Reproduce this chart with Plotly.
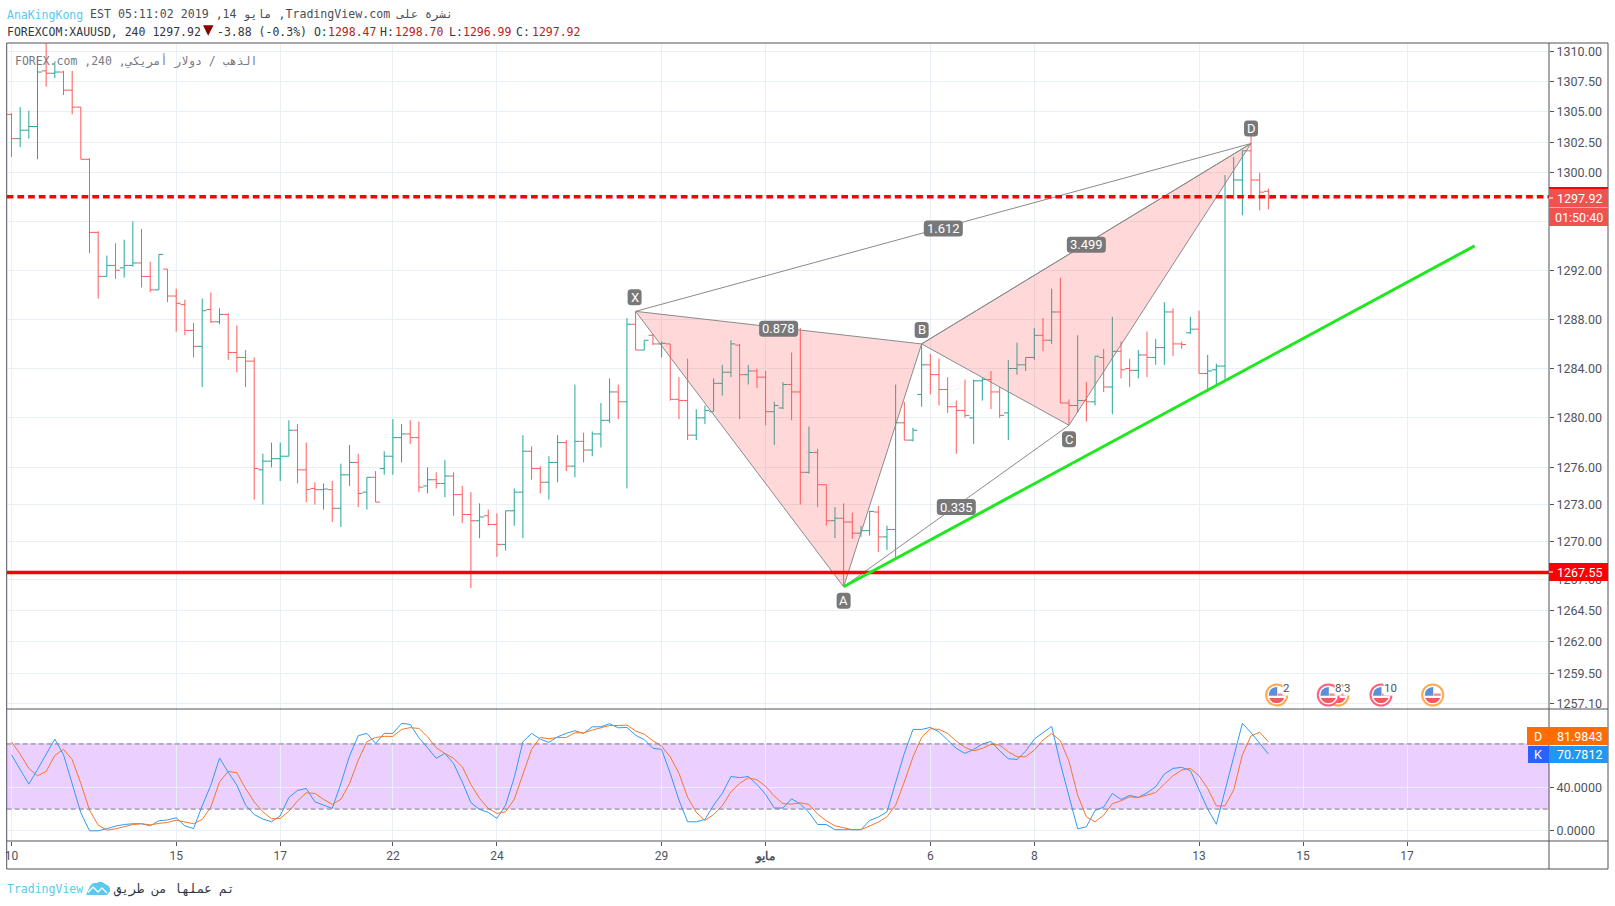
import math
import plotly.graph_objects as go

W, H = 1615, 906

# ---------- data ----------
opens = [
1304.8,1302.8,1303.5,1303.8,1308.4,1308.2,1308.3,1306.8,1305.4,1301.1,
1295.1,1291.5,1292.4,1292.2,1292.4,1292.6,1291.5,1290.4,1292.1,1289.9,
1289.2,1287.1,1285.8,1288.8,1287.8,1288.4,1285.3,1284.9,1284.6,1275.8,
1276.5,1276.7,1276.9,1279.0,1275.8,1274.3,1274.2,1274.2,1272.7,1275.4,
1276.4,1274.0,1275.2,1275.9,1276.9,1278.4,1278.7,1278.4,1274.5,1275.0,
1274.7,1275.3,1273.8,1272.2,1271.7,1272.1,1271.4,1269.8,1272.5,1274.0,
1277.3,1275.9,1274.8,1276.4,1278.0,1276.1,1278.1,1277.4,1278.7,1279.8,
1282.1,1281.3,1287.6,1285.5,1286.7,1286.0,1286.0,1281.5,1281.4,1278.6,
1280.0,1280.5,1282.8,1283.7,1285.9,1283.5,1283.8,1283.3,1280.5,1280.8,
1282.7,1282.1,1275.6,1277.2,1274.6,1271.7,1271.9,1271.6,1270.7,1270.9,
1272.4,1270.4,1271.0,1279.6,1278.2,1281.9,1284.3,1283.5,1282.3,1280.9,
1280.6,1280.0,1283.0,1283.1,1282.1,1280.4,1284.0,1284.3,1284.9,1286.7,
1286.3,1288.6,1281.2,1281.0,1281.4,1281.3,1284.9,1282.5,1285.4,1284.0,
1283.85,1285.1,1284.9,1285.7,1288.6,1286.0,1286.9,1287.2,1283.6,1283.9,
1284.2,1298.0,1299.4,1301.8,1299.4,1298.47]
closes = [
1302.8,1303.5,1303.8,1308.3,1308.2,1308.3,1306.8,1305.4,1301.1,1295.1,
1291.5,1292.4,1292.0,1292.4,1292.6,1291.5,1290.4,1293.3,1289.9,1289.3,
1287.1,1285.8,1288.7,1287.8,1288.4,1285.3,1284.9,1284.6,1275.9,1276.5,
1276.7,1276.9,1279.0,1275.8,1274.2,1274.2,1274.25,1272.7,1275.4,1276.4,
1273.9,1275.2,1273.2,1276.9,1278.4,1278.7,1278.4,1274.4,1275.0,1274.7,
1275.3,1273.8,1272.2,1271.7,1272.0,1271.4,1269.8,1272.5,1274.0,1277.3,
1275.9,1274.8,1276.4,1278.0,1276.1,1278.1,1277.4,1278.7,1279.8,1282.1,
1281.3,1287.6,1285.5,1286.3,1286.0,1286.05,1281.5,1281.4,1278.6,1280.0,
1280.6,1282.8,1283.7,1286.0,1283.5,1283.8,1283.3,1280.5,1281.0,1282.7,
1282.1,1275.6,1277.2,1274.6,1271.7,1271.9,1271.6,1270.7,1270.9,1272.45,
1270.4,1271.0,1279.6,1278.2,1279.0,1284.3,1283.5,1282.3,1280.9,1280.6,
1280.2,1283.0,1283.1,1282.1,1280.2,1284.0,1284.3,1284.9,1286.7,1286.3,
1288.6,1281.2,1281.0,1281.4,1281.3,1285.0,1282.5,1285.4,1283.9,1283.85,
1285.1,1284.9,1285.7,1288.6,1286.0,1285.95,1287.2,1283.6,1283.8,1284.2,
1298.0,1299.4,1301.8,1299.4,1298.4,1297.92]
highs = [
1304.9,1305.4,1305.1,1309.6,1311.0,1309.2,1308.4,1308.4,1305.4,1301.2,
1295.2,1293.2,1294.2,1294.5,1296.0,1295.4,1292.7,1293.3,1292.1,1290.5,
1289.6,1287.7,1289.7,1290.2,1288.9,1288.5,1287.5,1285.5,1284.9,1277.1,
1278.0,1278.0,1279.8,1279.5,1278.0,1274.8,1274.7,1274.9,1276.3,1277.8,
1277.1,1275.2,1275.7,1277.3,1279.9,1279.5,1279.8,1279.7,1276.0,1275.6,
1276.6,1275.6,1274.5,1274.0,1273.1,1272.6,1272.3,1272.5,1274.3,1278.6,
1277.7,1276.1,1276.9,1278.6,1278.2,1282.7,1278.8,1278.9,1281.2,1283.2,
1282.7,1288.1,1288.6,1286.3,1286.8,1286.2,1286.0,1283.3,1284.8,1280.7,
1281.0,1283.2,1284.3,1286.3,1286.0,1284.3,1284.0,1283.8,1281.3,1282.9,
1285.3,1287.3,1279.3,1277.5,1274.6,1272.8,1273.1,1272.35,1271.3,1272.5,
1272.9,1271.3,1282.7,1281.3,1279.2,1286.0,1285.2,1284.8,1283.3,1281.4,
1283.1,1283.1,1283.3,1283.8,1282.5,1284.7,1286.1,1284.9,1287.3,1288.1,
1290.5,1291.4,1281.5,1286.7,1282.9,1285.0,1285.6,1288.2,1286.2,1284.8,
1285.5,1287.0,1286.4,1289.4,1288.9,1286.2,1288.2,1288.7,1285.1,1284.4,
1299.8,1301.3,1301.8,1303.3,1300.0,1298.70]
lows = [
1301.3,1302.1,1302.8,1301.1,1307.1,1307.8,1306.4,1304.8,1301.1,1293.4,
1289.7,1291.5,1291.3,1291.4,1292.3,1290.6,1290.2,1290.4,1289.4,1287.0,
1286.7,1284.9,1282.5,1287.7,1287.6,1284.7,1283.7,1282.5,1273.4,1273.0,
1276.0,1274.9,1276.9,1274.7,1273.2,1273.0,1272.6,1271.6,1271.2,1274.5,
1272.8,1272.6,1273.2,1275.4,1275.4,1276.4,1277.9,1274.0,1273.9,1274.3,
1273.6,1272.1,1271.5,1266.3,1270.3,1271.3,1268.8,1269.3,1271.3,1270.3,
1275.0,1273.9,1273.4,1274.8,1275.7,1275.2,1276.4,1276.9,1277.6,1279.6,
1279.9,1274.3,1285.5,1285.5,1285.9,1284.9,1281.4,1279.9,1278.2,1278.2,
1279.5,1280.5,1281.8,1283.3,1279.9,1282.7,1282.4,1279.4,1277.8,1280.7,
1279.8,1273.0,1275.5,1272.8,1271.3,1270.3,1266.4,1270.25,1270.4,1270.5,
1269.2,1269.35,1268.6,1278.2,1278.1,1280.9,1281.9,1281.0,1280.4,1277.1,
1280.0,1277.9,1281.4,1280.7,1280.0,1278.2,1283.5,1283.8,1284.7,1285.4,
1286.0,1281.2,1279.4,1280.4,1279.7,1281.0,1282.1,1280.3,1283.2,1282.5,
1283.2,1283.3,1284.3,1284.3,1285.0,1285.6,1286.8,1283.6,1282.1,1282.7,
1283.1,1297.8,1296.5,1298.1,1296.9,1296.99]
bars = list(range(len(opens)))

stoch_k = [
70,57,43,56.5,70,84.5,70,43,16.6,0,
0,2,4.3,5.8,6.5,6.5,4.6,9.2,10,12,
4.6,2,23,42,67,54,42,23.7,15,10.8,
8.3,13.8,30.7,37.2,39,26.7,23.7,20.6,43.6,69,
87.6,89.7,80.5,89.7,89.7,99,98,85.7,76.5,66.7,
71.3,62,45,26,19.7,17,11.4,23.7,49,82,
89.7,84.5,81.4,86.6,89.7,92.2,89.7,95.8,95.8,98.6,
94.9,95.2,88,84,76,75,52.8,28.3,8.3,8.3,
10.4,23.7,34.4,50,49,50,42.7,33.5,21,21,
29.5,24.6,17,5.8,5.8,1,1,1,1,9.5,
12.6,17.5,43.6,71.3,93.4,93.4,95.2,91.2,83.6,75.9,
71.3,75,79.9,82.3,73.7,66.4,65.7,73.4,84.5,90.3,
96.2,62,32.9,1.8,3.7,18.7,21.8,34.4,28.9,32.6,
30.7,35,40.6,52.2,57.5,58.4,55.6,37.5,20,6,
37.5,68,99,90.4,80.6,70.78]
stoch_d = [
82,70.7,57.5,50.7,54.7,69.4,75,65.7,43.6,19,
5.2,0.6,1.8,3.7,5.8,6.5,5.5,6.8,7.7,9.8,
8.3,6.5,10.4,22,45,54.7,53.5,39,26.7,17.5,
11,11.4,18,27.6,35,34.4,29,24.3,29,43.6,
65,82,86,87,87,93.4,95,94.3,86.6,76.5,
71.3,66.7,59,42.7,29.8,20.6,16,17.5,29,52.8,
75,86,84.8,86,86,90.3,90.3,92.8,95,97,
97,97.4,92,89,83,78,68,53,31,17,
9.5,15,23,36,43.6,48.8,47,41,32,25,
24.6,25.8,24.3,15.4,9.2,4.6,2.8,1,1,4.3,
8,12.9,23.7,45,68,86,94,93.4,89.7,82.6,
76.8,73.7,75.9,79.6,79,72.8,68.2,68.2,74.3,83.6,
89.7,83,64,32.9,12.9,8.3,14.4,25,27.6,31.3,
30.7,32.9,35.3,43,50.7,56,57.5,50.7,39,23,
23,37.5,70,87.4,90.8,81.98]

pattern_names = ["X", "A", "B", "C", "D"]
pattern_x = [72, 96, 105, 122, 143]
pattern_y = [1288.65, 1266.4, 1286.0, 1279.4, 1302.4]
ratio_labels = ["0.878", "0.335", "3.499", "1.612"]

support_level = 1267.55
last_price = 1297.92
resistance_line = 1298.03
trend_x = [96, 168.8]
trend_y = [1266.4, 1294.0]
band_low, band_high = 20, 80

price_ticks = [1310, 1307.5, 1305, 1302.5, 1300, 1296, 1292, 1288, 1284, 1280,
               1276, 1273, 1270, 1267, 1264.5, 1262, 1259.5, 1257.1]
price_hidden = [1296]
stoch_ticks = [0, 40, 80]
stoch_ticklabels = ["0.0000", "40.0000", ""]
date_ticks = [0, 19, 31, 44, 56, 75, 87, 106, 118, 137, 149, 161]
date_labels = ["10", "15", "17", "22", "24", "29", "<b>مايو</b>", "6", "8", "13", "15", "17"]

# ---------- geometry (pixels) ----------
X0, X1 = 6.7, 1549
TOP, SPLIT, SUB_BOTTOM, BOTTOM, RIGHT = 43, 709, 841, 869, 1608
BAR0, PITCH = 11.5, 8.668
LOG_REF, LOG_REF_Y, LOG_K = math.log10(1310), 51.5, 36413

def px(i):
    return BAR0 + PITCH * i

def py(p):
    return LOG_REF_Y + (LOG_REF - math.log10(p)) * LOG_K

x_range = [(X0 - BAR0) / PITCH, (X1 - BAR0) / PITCH]
y_range = [LOG_REF - (SPLIT - LOG_REF_Y) / LOG_K, LOG_REF + (LOG_REF_Y - TOP) / LOG_K]

MONO = "DejaVu Sans Mono"
AXF = "Roboto"
GRID = "#e8eff5"
FRAME = "#50535e"
AXTXT = "#50535e"
GREEN = "#26a69a"
RED = "#ff5a5a"

fig = go.Figure()

fig.add_trace(go.Ohlc(
    x=bars, open=opens, high=highs, low=lows, close=closes, xaxis="x", yaxis="y",
    tickwidth=0.5,
    increasing=dict(line=dict(color=GREEN, width=1)),
    decreasing=dict(line=dict(color=RED, width=1)),
    hoverinfo="skip", showlegend=False))

# harmonic pattern
pt = dict(zip(pattern_names, zip(pattern_x, pattern_y)))
FILL = "rgba(255,82,82,0.22)"
for tri in ("XAB", "BCD"):
    fig.add_trace(go.Scatter(x=[pt[c][0] for c in tri] + [pt[tri[0]][0]],
                             y=[pt[c][1] for c in tri] + [pt[tri[0]][1]],
                             mode="lines", fill="toself", fillcolor=FILL,
                             line=dict(color="#8a8a8a", width=1),
                             xaxis="x", yaxis="y", hoverinfo="skip", showlegend=False))
for a, b in ("XD", "AC", "BD"):
    fig.add_trace(go.Scatter(x=[pt[a][0], pt[b][0]], y=[pt[a][1], pt[b][1]], mode="lines",
                             line=dict(color="#8a8a8a", width=1),
                             xaxis="x", yaxis="y", hoverinfo="skip", showlegend=False))

# horizontal levels and trend line
fig.add_trace(go.Scatter(x=x_range, y=[resistance_line, resistance_line], mode="lines",
                         line=dict(color="#ff0000", width=3.5, dash="6.7px,4px"),
                         xaxis="x", yaxis="y", hoverinfo="skip", showlegend=False))
fig.add_trace(go.Scatter(x=x_range, y=[support_level, support_level], mode="lines",
                         line=dict(color="#ff0000", width=3.5),
                         xaxis="x", yaxis="y", hoverinfo="skip", showlegend=False))
fig.add_trace(go.Scatter(x=trend_x, y=trend_y, mode="lines",
                         line=dict(color="#1ee81e", width=3),
                         xaxis="x", yaxis="y", hoverinfo="skip", showlegend=False))

# stochastic
fig.add_trace(go.Scatter(x=bars, y=stoch_k, mode="lines", line=dict(color="#2f9bf5", width=1),
                         xaxis="x2", yaxis="y2", hoverinfo="skip", showlegend=False))
fig.add_trace(go.Scatter(x=bars, y=stoch_d, mode="lines", line=dict(color="#f7752a", width=1),
                         xaxis="x2", yaxis="y2", hoverinfo="skip", showlegend=False))

# ---------- helpers ----------
def fx(p):
    return p / W

def fy(p):
    return 1 - p / H

shapes, annotations = [], []

def line(x0, y0, x1, y1, color=FRAME, width=1):
    shapes.append(dict(type="line", xref="paper", yref="paper", x0=fx(x0), y0=fy(y0),
                       x1=fx(x1), y1=fy(y1), line=dict(color=color, width=width), layer="above"))

def box(x0, y0, x1, y1, color):
    shapes.append(dict(type="rect", xref="paper", yref="paper", x0=fx(x0), y0=fy(y0),
                       x1=fx(x1), y1=fy(y1), line=dict(width=0), fillcolor=color, layer="above"))

def path(cmds, color, linecolor=None, lw=0):
    parts = []
    for c in cmds:
        if isinstance(c, str):
            parts.append(c)
        else:
            parts.append(f"{fx(c[0])},{fy(c[1])}")
    shapes.append(dict(type="path", xref="paper", yref="paper", path=" ".join(parts),
                       fillcolor=color, line=dict(color=linecolor or color, width=lw), layer="above"))

def rrect(cx, cy, w, h, r, color):
    x0, x1, y0, y1 = cx - w/2, cx + w/2, cy - h/2, cy + h/2
    path(["M", (x0 + r, y0), "L", (x1 - r, y0), "Q", (x1, y0), (x1, y0 + r),
          "L", (x1, y1 - r), "Q", (x1, y1), (x1 - r, y1),
          "L", (x0 + r, y1), "Q", (x0, y1), (x0, y1 - r),
          "L", (x0, y0 + r), "Q", (x0, y0), (x0 + r, y0), "Z"], color)

def text(x, y, s, size=11.5, color="#3c3f4a", font=MONO, anchor="left", bg=None):
    if anchor == "left":
        x -= 1.2
    annotations.append(dict(xref="paper", yref="paper", x=fx(x), y=fy(y), text=s, showarrow=False,
                            xanchor=anchor, yanchor="middle", align=anchor, borderpad=0,
                            bgcolor=bg, font=dict(family=font, size=size, color=color)))

# stochastic band
shapes.append(dict(type="rect", xref="x2 domain", yref="y2", x0=0, x1=1, y0=band_low, y1=band_high,
                   fillcolor="rgba(153,21,255,0.2)", line=dict(width=0), layer="below"))
for lvl in (band_low, band_high):
    shapes.append(dict(type="line", xref="x2 domain", yref="y2", x0=0, x1=1, y0=lvl, y1=lvl,
                       line=dict(color="#787b86", width=1, dash="5px,3px"), layer="above"))

# frame
line(X0, TOP, RIGHT, TOP)
line(X0, BOTTOM, RIGHT, BOTTOM)
line(X0, TOP, X0, BOTTOM)
line(RIGHT, TOP, RIGHT, BOTTOM)
line(X1, TOP, X1, BOTTOM)
line(X0, SPLIT, RIGHT, SPLIT)
line(X0, SUB_BOTTOM, RIGHT, SUB_BOTTOM)

# pattern labels
def tag(cx, cy, s, w):
    rrect(cx, cy, w, 16, 3.5, "#787878")
    text(cx, cy, s, size=13, color="#ffffff", font=AXF, anchor="center")

offs = {"X": -14, "A": 14, "B": -14, "C": 14, "D": -15}
for n in pattern_names:
    tag(px(pt[n][0]) - (1 if n == "X" else 0), py(pt[n][1]) + offs[n], n, 14)
for (a, b), s in zip(("XB", "AC", "BD", "XD"), ratio_labels):
    tag((px(pt[a][0]) + px(pt[b][0])) / 2, (py(pt[a][1]) + py(pt[b][1])) / 2 + 1, s, 39)

# axis value labels
box(X1, 187, RIGHT, 207, "#ef5350")
box(X1, 187, RIGHT, 189, "#ff0000")
box(X1, 207.5, RIGHT, 226, "#ef5350")
text(1579, 198, f"{last_price:.2f}", size=12.5, color="#ffffff", font=AXF, anchor="center")
text(1579, 217, "01:50:40", size=12.5, color="#ffffff", font=AXF, anchor="center")
line(X1, 198, X1 + 4, 198, "#ffffff")
box(X1, 563, RIGHT, 581, "#ff0000")
line(X1, 572, X1 + 4, 572, "#ffffff")
text(1579, 572, f"{support_level:.2f}", size=12.5, color="#ffffff", font=AXF, anchor="center")

box(1527, 727, X1, 745, "#ff6d00")
box(X1, 727, RIGHT, 745, "#ff6d00")
text(1538, 736, "D", size=12.5, color="#ffffff", font=AXF, anchor="center")
text(1579, 736, f"{81.9843:.4f}", size=12.5, color="#ffffff", font=AXF, anchor="center")
box(1528, 746, X1, 763, "#2962ff")
box(X1, 746, RIGHT, 763, "#2196f3")
text(1538, 754.5, "K", size=12.5, color="#ffffff", font=AXF, anchor="center")
text(1579, 754.5, f"{70.7812:.4f}", size=12.5, color="#ffffff", font=AXF, anchor="center")

# economic-calendar icons
def event(cx, cy, ring):
    r = 10.5
    shapes.append(dict(type="circle", xref="paper", yref="paper", x0=fx(cx - r), x1=fx(cx + r),
                       y0=fy(cy + r), y1=fy(cy - r), fillcolor="#ffffff",
                       line=dict(color=ring, width=2), layer="above"))
    path(["M", (cx - 7.5, cy + 3), "L", (cx + 7.5, cy + 3), "Q", (cx + 5, cy + 8.5), (cx, cy + 8),
          "Q", (cx - 5, cy + 8.5), (cx - 7.5, cy + 3), "Z"], "#ef5a5f")
    path(["M", (cx + 1, cy - 1.5), "L", (cx + 8, cy - 1.5), "L", (cx + 8, cy + 0.8), "L", (cx + 1, cy + 0.8), "Z"], "#ef8a8e")
    path(["M", (cx - 8, cy + 0.8), "L", (cx + 0.5, cy + 0.8), "L", (cx + 0.5, cy - 8), "Q", (cx - 8, cy - 7.5), (cx - 8, cy + 0.8), "Z"], "#5b8fd9")

ORANGE = "#ffa94d"
PINK = "#ff5f7e"
event(1276.7, 695, ORANGE)
event(1338, 695, ORANGE)
event(1328.3, 695, PINK)
event(1381, 695, PINK)
event(1432.7, 695, ORANGE)
NUM = dict(size=11.5, color="#50535e", font=AXF, anchor="center", bg="#ffffff")
text(1286, 687.7, "2", **NUM)
text(1338, 687.7, "8", **NUM)
text(1346.5, 687.7, "3", **NUM)
text(1390, 687.7, "10", **NUM)

# headers
text(6.7, 14.5, "AnaKingKong", size=11.5, color="#5ac8f0")
text(90, 14.5, "EST 05:11:02 2019 ,14 مايو ,TradingView.com نشرة على", size=11.6, color="#4a4d57")
text(6.7, 31.5, "FOREXCOM:XAUUSD, 240 1297.92", size=11.5, color="#33363f")
path(["M", (203, 25.2), "L", (213.5, 25.2), "L", (208.2, 35.8), "Z"], "#8b0000")
text(217, 31.5, "-3.88 (-0.3%) O:", size=11.5, color="#33363f")
text(328, 31.5, "1298.47", size=11.5, color="#b71c1c")
text(380, 31.5, "H:", size=11.5, color="#33363f")
text(395, 31.5, "1298.70", size=11.5, color="#b71c1c")
text(449, 31.5, "L:", size=11.5, color="#33363f")
text(463, 31.5, "1296.99", size=11.5, color="#b71c1c")
text(516, 31.5, "C:", size=11.5, color="#33363f")
text(532, 31.5, "1297.92", size=11.5, color="#b71c1c")
text(15.3, 61.5, "FOREX.com ,240 ,الذهب / دولار أمريكي", size=11.5, color="#777a84")

# footer
text(7, 889, "TradingView", size=11.5, color="#5ac8f0")
path(["M", (86, 895), "L", (90, 886), "Q", (93, 882), (97, 883), "Q", (101, 880), (105, 884),
      "Q", (111, 886), (110, 891), "L", (107, 895), "Z"], "#5ac8f0")
path(["M", (88, 892.5), "L", (93, 887), "L", (98, 892), "L", (102, 888), "L", (107, 893)], "rgba(0,0,0,0)", "#ffffff", 1.3)
text(113, 889, "تم عملها من طريق", size=12.5, color="#33363f", font=MONO)

# ---------- axes ----------
base_x = dict(range=x_range, tickmode="array", tickvals=date_ticks, showgrid=True, gridcolor=GRID,
              gridwidth=1, zeroline=False, showline=False, fixedrange=True,
              domain=[fx(X0), fx(X1)], automargin=False)
fig.update_layout(
    width=W, height=H, autosize=False,
    margin=dict(l=0, r=0, t=0, b=0, pad=0, autoexpand=False),
    paper_bgcolor="#ffffff", plot_bgcolor="#ffffff", showlegend=False,
    xaxis=dict(base_x, anchor="y", showticklabels=False, ticks="", rangeslider=dict(visible=False)),
    xaxis2=dict(base_x, anchor="y2", ticktext=date_labels, ticks="outside", ticklen=4, tickcolor=FRAME,
                tickfont=dict(family=AXF, size=12, color=AXTXT)),
    yaxis=dict(type="log", range=y_range, domain=[fy(SPLIT), fy(TOP)], side="right", anchor="x",
               tickmode="array", tickvals=price_ticks,
               ticktext=["" if v in price_hidden else f"{v:.2f}" for v in price_ticks],
               showgrid=True, gridcolor=GRID, gridwidth=1, zeroline=False, showline=False,
               ticks="outside", ticklen=4, tickcolor=FRAME, fixedrange=True, automargin=False,
               tickfont=dict(family=AXF, size=12.5, color=AXTXT)),
    yaxis2=dict(range=[-9.4, 112.2], domain=[fy(SUB_BOTTOM), fy(SPLIT)], side="right", anchor="x2",
                tickmode="array", tickvals=stoch_ticks, ticktext=stoch_ticklabels,
                showgrid=True, gridcolor=GRID, gridwidth=1, zeroline=False, showline=False,
                ticks="outside", ticklen=4, tickcolor=FRAME, fixedrange=True, automargin=False,
                tickfont=dict(family=AXF, size=12.5, color=AXTXT)),
    shapes=shapes, annotations=annotations, hovermode=False,
)

fig.write_html("out.html", config=dict(displayModeBar=False),
               post_script="document.body.style.margin='0';")
